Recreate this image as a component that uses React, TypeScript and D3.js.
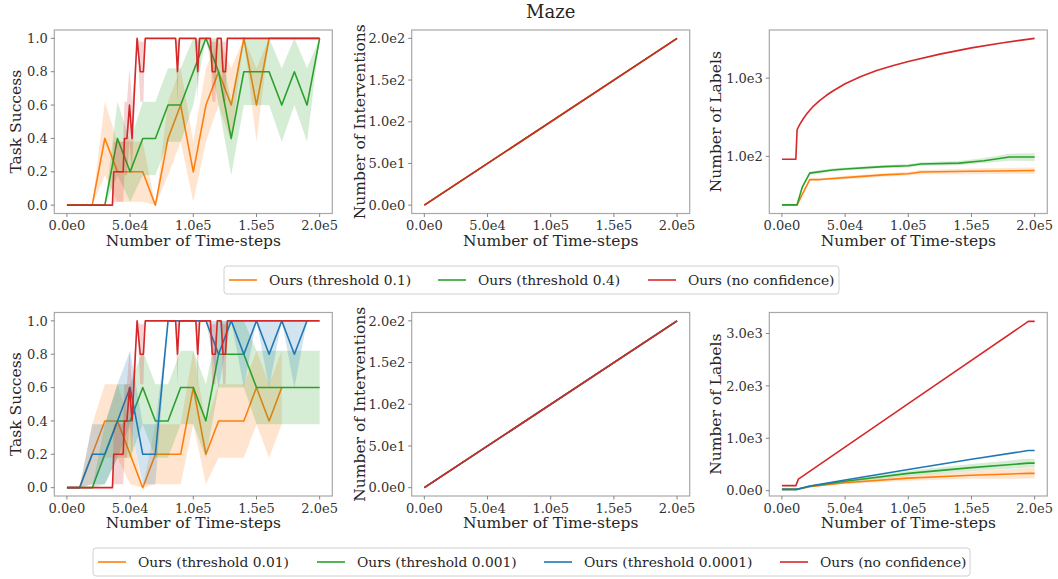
import React from "react";
import * as d3 from "d3";

const ORANGE = "#ff7f0e";
const GREEN = "#2ca02c";
const BLUE = "#1f77b4";
const RED = "#d62728";

// evaluation points, every 1e4 time-steps
const evalSteps = [
  0, 10000, 20000, 30000, 40000, 50000, 60000, 70000, 80000, 90000, 100000,
  110000, 120000, 130000, 140000, 150000, 160000, 170000, 180000, 190000, 200000,
];

// task success, top row
const succOrangeTop = [0, 0, 0, 0.4, 0.2, 0.2, 0.2, 0, 0.4, 0.6, 0.2, 0.6, 0.8, 0.6, 1, 0.6, 1, 1, 1, 1, 1];
const succOrangeTopSd = [0, 0, 0, 0.22, 0.18, 0.18, 0.18, 0, 0.22, 0.22, 0.18, 0.22, 0.2, 0.22, 0, 0.22, 0, 0, 0, 0, 0];
const succGreenTop = [0, 0, 0, 0, 0.4, 0.2, 0.4, 0.4, 0.6, 0.6, 0.8, 1, 0.8, 0.4, 0.8, 0.8, 0.8, 0.6, 0.8, 0.6, 1];
const succGreenTopSd = [0, 0, 0, 0, 0.22, 0.18, 0.22, 0.22, 0.22, 0.22, 0.2, 0, 0.2, 0.22, 0.2, 0.2, 0.2, 0.22, 0.2, 0.22, 0];

// task success, bottom row
const succOrangeBot = [0, 0, 0.2, 0.4, 0.4, 0.2, 0, 0.2, 0.2, 0.2, 0.6, 0.2, 0.4, 0.4, 0.4, 0.6, 0.4, 0.6];
const succOrangeBotSd = [0, 0, 0.18, 0.22, 0.22, 0.18, 0, 0.18, 0.18, 0.18, 0.22, 0.18, 0.22, 0.22, 0.22, 0.22, 0.22, 0.22];
const succGreenBot = [0, 0, 0, 0.2, 0.4, 0.4, 0.6, 0.4, 0.4, 0.6, 0.6, 0.4, 0.8, 0.8, 0.8, 0.6, 0.6, 0.6, 0.6, 0.6, 0.6];
const succGreenBotSd = [0, 0, 0, 0.18, 0.22, 0.22, 0.22, 0.22, 0.22, 0.22, 0.22, 0.22, 0.2, 0.2, 0.2, 0.22, 0.22, 0.22, 0.22, 0.22, 0.22];
const succBlueBot = [0, 0, 0.2, 0.2, 0.4, 0.6, 0.2, 0.2, 1, 1, 1, 1, 0.8, 1, 0.8, 1, 0.8, 1, 0.8, 1];
const succBlueBotSd = [0, 0, 0.18, 0.18, 0.22, 0.22, 0.18, 0.18, 0, 0, 0, 0, 0.2, 0, 0.2, 0, 0.2, 0, 0.2, 0];

// no-confidence run is logged more often
const redSteps = [
  0, 36000, 37000, 44500, 45500, 47500, 49500, 51500, 55500, 58000, 60500, 62000, 86000, 87500,
  89000, 102000, 103500, 105000, 113500, 115000, 117500, 119000, 122000, 123500, 125500, 127000, 200000,
];
const succRed = [0, 0, 0.2, 0.2, 0.4, 0.4, 0.6, 0.4, 1, 0.8, 0.8, 1, 1, 0.8, 1, 1, 0.8, 1, 1, 0.8, 0.8, 1, 1, 0.8, 0.8, 1, 1];
const succRedSd = [0, 0, 0.18, 0.18, 0.22, 0.22, 0.22, 0.22, 0, 0.18, 0.18, 0, 0, 0.18, 0, 0, 0.18, 0, 0, 0.18, 0.18, 0, 0, 0.18, 0.18, 0, 0];

// number of interventions
const intervSteps = [0, 200000];
const intervCount = [0, 200];

// number of labels, top row (log axis)
const labRedTopSteps = [
  0, 11000, 12000, 14000, 17000, 20000, 25000, 30000, 35000, 40000, 50000, 62500, 75000,
  87500, 100000, 125000, 150000, 175000, 200000,
];
const labRedTop = [92, 92, 219, 255, 305, 355, 440, 520, 600, 680, 850, 1050, 1250, 1440, 1630, 2030, 2440, 2840, 3230];
const labGreenTopSteps = [0, 12000, 16000, 22000, 40000, 50000, 80000, 100000, 110000, 140000, 160000, 180000, 200000];
const labGreenTop = [24, 24, 40, 61, 67, 69, 74, 76, 80, 82, 88, 98, 98];
const labGreenTopLo = [24, 24, 38, 58, 64, 66, 71, 72, 76, 77, 82, 88, 87];
const labGreenTopHi = [24, 24, 42, 64, 70, 72, 77, 80, 84, 87, 95, 108, 110];
const labOrangeTopSteps = [0, 12000, 22000, 30000, 50000, 80000, 100000, 110000, 150000, 200000];
const labOrangeTop = [24, 24, 50.5, 50.5, 53.5, 58, 60, 63, 64.5, 66];
const labOrangeTopLo = [24, 24, 49, 49, 51, 55, 57, 59, 59, 60];
const labOrangeTopHi = [24, 24, 52, 52, 56, 61, 63, 67, 70, 72];

// number of labels, bottom row
const labBotSteps = [0, 12000, 22000, 50000, 100000, 150000, 195000, 200000];
const labBlueBot = [25, 25, 90, 205, 405, 600, 765, 765];
const labGreenBot = [25, 25, 85, 180, 330, 440, 525, 525];
const labGreenBotLo = [25, 25, 80, 160, 280, 370, 440, 440];
const labGreenBotHi = [25, 25, 90, 200, 380, 510, 610, 610];
const labOrangeBot = [25, 25, 75, 150, 240, 295, 330, 330];
const labOrangeBotLo = [25, 25, 70, 125, 190, 225, 230, 230];
const labOrangeBotHi = [25, 25, 80, 175, 290, 365, 430, 430];
const labRedBotSteps = [0, 11000, 13000, 100000, 195000, 200000];
const labRedBot = [96, 96, 220, 1660, 3230, 3230];

const xTicks = [0, 50000, 100000, 150000, 200000];
const succTicks = [0, 0.2, 0.4, 0.6, 0.8, 1.0];
const intervTicks = [0, 50, 100, 150, 200];
const labLogTicks = [100, 1000];
const labLinTicks = [0, 1000, 2000, 3000];

const legendTop = ["Ours (threshold 0.1)", "Ours (threshold 0.4)", "Ours (no confidence)"];
const legendBot = ["Ours (threshold 0.01)", "Ours (threshold 0.001)", "Ours (threshold 0.0001)", "Ours (no confidence)"];

// layout
const FONT = "DejaVu Serif";
const COL_X = [54.3, 411.7, 769.3];
const ROW_Y = [30, 312.5];
const AX_W = 278;
const AX_H = 183.5;

const sci = (v: number) => {
  if (v === 0) return "0.0e0";
  const e = Math.floor(Math.log10(Math.abs(v)) + 1e-9);
  return (v / Math.pow(10, e)).toFixed(1) + "e" + e;
};

type Series = { color: string; x: number[]; m: number[]; lo?: number[]; hi?: number[] };

const sdSeries = (color: string, x: number[], m: number[], sd: number[]): Series => ({
  color,
  x,
  m,
  lo: m.map((v, i) => v - sd[i]),
  hi: m.map((v, i) => v + sd[i]),
});

type PanelDef = {
  col: number;
  row: number;
  log?: boolean;
  yDomain: [number, number];
  yTicks: number[];
  yFmt: (v: number) => string;
  yLabel: string;
  yLabelOff: number;
  series: Series[];
};

const Panel = ({ p }: { p: PanelDef }) => {
  const left = COL_X[p.col];
  const top = ROW_Y[p.row];
  const bottom = top + AX_H;
  const x = d3.scaleLinear().domain([-10000, 210000]).range([left, left + AX_W]);
  const y = (p.log ? d3.scaleLog() : d3.scaleLinear()).domain(p.yDomain).range([bottom, top]);

  return (
    <g>
      {p.series.map((s, si) => {
        const pts = s.x.map((xv, i) => ({ x: xv, m: s.m[i], lo: s.lo ? s.lo[i] : s.m[i], hi: s.hi ? s.hi[i] : s.m[i] }));
        const area = d3
          .area<any>()
          .x((d) => x(d.x))
          .y0((d) => y(d.lo))
          .y1((d) => y(d.hi));
        const line = d3
          .line<any>()
          .x((d) => x(d.x))
          .y((d) => y(d.m));
        return (
          <g key={si}>
            {s.lo && <path d={area(pts) || ""} fill={s.color} fillOpacity={0.2} stroke="none" />}
            <path d={line(pts) || ""} fill="none" stroke={s.color} strokeWidth={1.6} strokeLinejoin="round" />
          </g>
        );
      })}
      <rect x={left} y={top} width={AX_W} height={AX_H} fill="none" stroke="#a8a8a8" strokeWidth={1.2} />
      {xTicks.map((t) => (
        <g key={"x" + t}>
          <line x1={x(t)} x2={x(t)} y1={bottom} y2={bottom + 3.5} stroke="#777" strokeWidth={0.9} />
          <text x={x(t)} y={bottom + 16.5} textAnchor="middle" fontSize={13} fill="#333" fontFamily={FONT}>
            {sci(t)}
          </text>
        </g>
      ))}
      {p.yTicks.map((t) => (
        <g key={"y" + t}>
          <line x1={left - 3.5} x2={left} y1={y(t)} y2={y(t)} stroke="#777" strokeWidth={0.9} />
          <text x={left - 6.5} y={y(t)} dy="0.36em" textAnchor="end" fontSize={13} fill="#333" fontFamily={FONT}>
            {p.yFmt(t)}
          </text>
        </g>
      ))}
      <text x={left + AX_W / 2} y={bottom + 32} textAnchor="middle" fontSize={15.5} fill="#262626" fontFamily={FONT}>
        Number of Time-steps
      </text>
      <text
        transform={`translate(${left - p.yLabelOff},${top + AX_H / 2}) rotate(-90)`}
        textAnchor="middle"
        fontSize={15.5}
        fill="#262626"
        fontFamily={FONT}
      >
        {p.yLabel}
      </text>
    </g>
  );
};

const Legend = ({ x, y, w, colors, labels, itemX }: { x: number; y: number; w: number; colors: string[]; labels: string[]; itemX: number[] }) => (
  <g>
    <rect x={x} y={y} width={w} height={28} rx={3} fill="#fff" fillOpacity={0.8} stroke="#d0d0d0" strokeWidth={1} />
    {labels.map((l, i) => (
      <g key={l}>
        <line x1={itemX[i]} x2={itemX[i] + 28} y1={y + 14} y2={y + 14} stroke={colors[i]} strokeWidth={1.6} />
        <text x={itemX[i] + 40} y={y + 14} dy="0.36em" fontSize={13.8} fill="#262626" fontFamily={FONT}>
          {l}
        </text>
      </g>
    ))}
  </g>
);

export default function App() {
  const redSucc = sdSeries(RED, redSteps, succRed, succRedSd);
  const panels: PanelDef[] = [
    {
      col: 0, row: 0, yDomain: [-0.05, 1.05], yTicks: succTicks, yFmt: (v) => v.toFixed(1),
      yLabel: "Task Success", yLabelOff: 33,
      series: [
        sdSeries(ORANGE, evalSteps, succOrangeTop, succOrangeTopSd),
        sdSeries(GREEN, evalSteps, succGreenTop, succGreenTopSd),
        redSucc,
      ],
    },
    {
      col: 1, row: 0, yDomain: [-10, 210], yTicks: intervTicks, yFmt: sci,
      yLabel: "Number of Interventions", yLabelOff: 47,
      series: [ORANGE, GREEN, RED].map((c) => ({ color: c, x: intervSteps, m: intervCount })),
    },
    {
      col: 2, row: 0, log: true, yDomain: [18.6, 4130], yTicks: labLogTicks, yFmt: sci,
      yLabel: "Number of Labels", yLabelOff: 48,
      series: [
        { color: ORANGE, x: labOrangeTopSteps, m: labOrangeTop, lo: labOrangeTopLo, hi: labOrangeTopHi },
        { color: GREEN, x: labGreenTopSteps, m: labGreenTop, lo: labGreenTopLo, hi: labGreenTopHi },
        { color: RED, x: labRedTopSteps, m: labRedTop },
      ],
    },
    {
      col: 0, row: 1, yDomain: [-0.05, 1.05], yTicks: succTicks, yFmt: (v) => v.toFixed(1),
      yLabel: "Task Success", yLabelOff: 33,
      series: [
        sdSeries(ORANGE, evalSteps.slice(0, succOrangeBot.length), succOrangeBot, succOrangeBotSd),
        sdSeries(GREEN, evalSteps, succGreenBot, succGreenBotSd),
        sdSeries(BLUE, evalSteps.slice(0, succBlueBot.length), succBlueBot, succBlueBotSd),
        redSucc,
      ],
    },
    {
      col: 1, row: 1, yDomain: [-10, 210], yTicks: intervTicks, yFmt: sci,
      yLabel: "Number of Interventions", yLabelOff: 47,
      series: [ORANGE, GREEN, BLUE, RED].map((c) => ({ color: c, x: intervSteps, m: intervCount })),
    },
    {
      col: 2, row: 1, yDomain: [-102, 3400], yTicks: labLinTicks, yFmt: sci,
      yLabel: "Number of Labels", yLabelOff: 48,
      series: [
        { color: ORANGE, x: labBotSteps, m: labOrangeBot, lo: labOrangeBotLo, hi: labOrangeBotHi },
        { color: GREEN, x: labBotSteps, m: labGreenBot, lo: labGreenBotLo, hi: labGreenBotHi },
        { color: BLUE, x: labBotSteps, m: labBlueBot },
        { color: RED, x: labRedBotSteps, m: labRedBot },
      ],
    },
  ];

  return (
    <svg width={1058} height={579} style={{ position: "absolute", left: 0, top: 0, background: "#fff" }}>
      <rect width={1058} height={579} fill="#fff" />
      <text x={(COL_X[1] + COL_X[1] + AX_W) / 2} y={18} textAnchor="middle" fontSize={18} fill="#262626" fontFamily={FONT}>
        Maze
      </text>
      {panels.map((p, i) => (
        <Panel key={i} p={p} />
      ))}
      <Legend x={224} y={266} w={615} colors={[ORANGE, GREEN, RED]} labels={legendTop} itemX={[229, 438, 648]} />
      <Legend x={93} y={548} w={877} colors={[ORANGE, GREEN, BLUE, RED]} labels={legendBot} itemX={[98, 317, 544, 780]} />
    </svg>
  );
}
